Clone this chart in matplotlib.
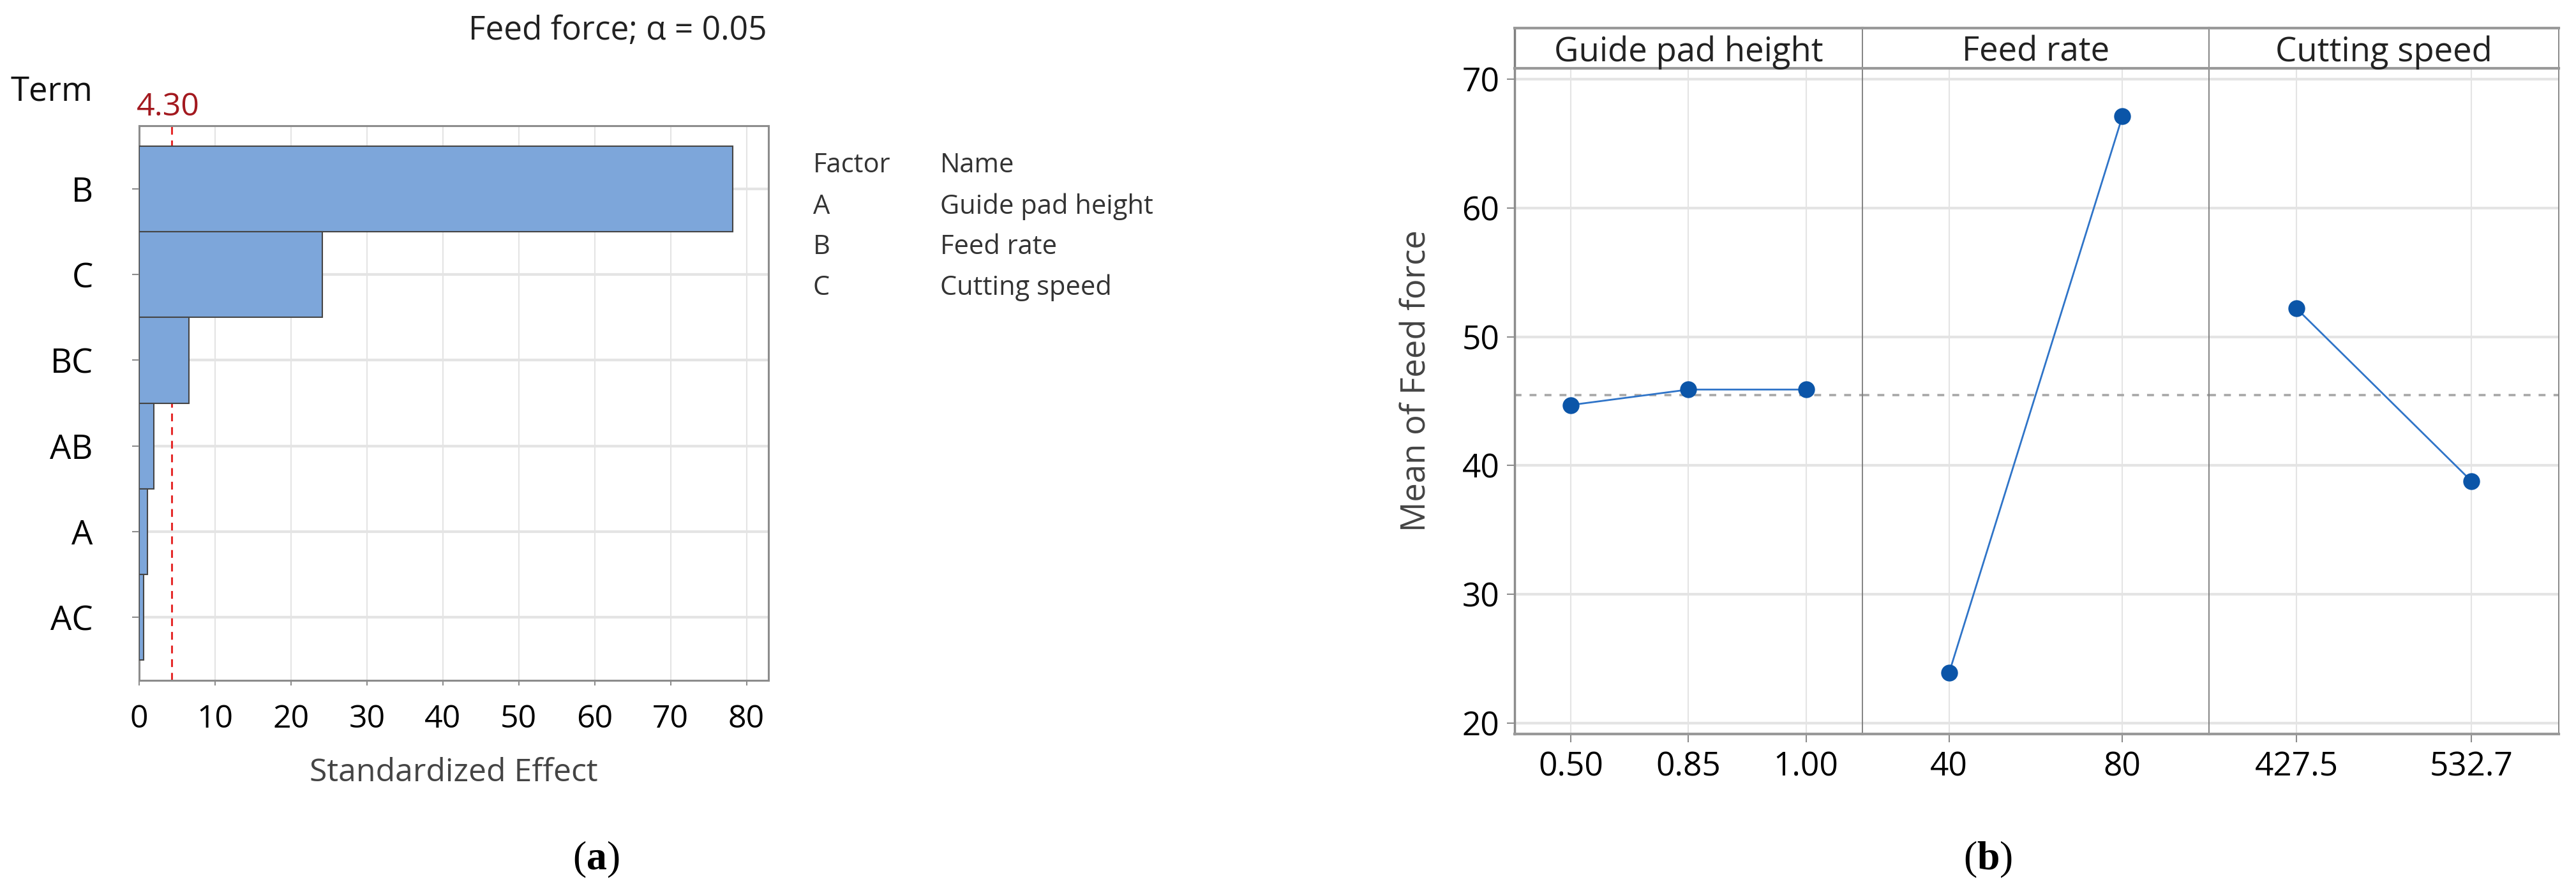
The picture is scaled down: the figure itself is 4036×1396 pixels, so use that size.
import numpy as np
import matplotlib
matplotlib.use("Agg")
import matplotlib.pyplot as plt

plt.rcParams['font.family'] = ['Open Sans', 'DejaVu Sans']
plt.rcParams['mathtext.fontset'] = 'custom'
plt.rcParams['mathtext.rm'] = 'Liberation Serif'
plt.rcParams['mathtext.bf'] = 'Liberation Serif:bold'

# ---- data -------------------------------------------------------------
terms = ["B", "C", "BC", "AB", "A", "AC"]
effects = [78.2, 24.1, 6.6, 1.95, 1.1, 0.55]
crit_value = 4.30
factor_codes = ["A", "B", "C"]
factor_names = ["Guide pad height", "Feed rate", "Cutting speed"]

guide_levels = ["0.50", "0.85", "1.00"]
guide_means = [44.7, 45.9, 45.9]
feed_levels = ["40", "80"]
feed_means = [23.9, 67.1]
speed_levels = ["427.5", "532.7"]
speed_means = [52.2, 38.8]
grand_mean = 45.45

# ---- figure -----------------------------------------------------------
W, H = 4037, 1396
fig = plt.figure(figsize=(W / 100, H / 100), dpi=100)


def fx(px):
    return px / W


def fy(py):
    return 1 - py / H


def box(x0, y0, x1, y1):
    # pixel box (top-left origin) -> figure rect
    return [fx(x0), fy(y1), (x1 - x0) / W, (y1 - y0) / H]


SPINE = '#8c8c8c'
GRID = '#e4e4e4'

# =============================================================================
# (a) Pareto chart of standardized effects
# =============================================================================
ax = fig.add_axes(box(218, 197, 1204, 1066))
ypos = np.arange(len(terms))[::-1]
ax.barh(ypos, effects, height=1.0, color='#7da6da', edgecolor='#454545',
        linewidth=1.5, zorder=3)
ax.axvline(crit_value, color='#e52a2a', ls=(0, (4, 3)), lw=2.2, zorder=2.5)
ax.set_xlim(0, 82.9)
ax.set_ylim(-0.74, 5.74)
ax.set_xticks(range(0, 81, 10))
ax.set_yticks(ypos)
ax.set_yticklabels(terms)
ax.xaxis.grid(True, color=GRID, lw=1.5, zorder=0)
ax.yaxis.grid(True, color=GRID, lw=3, zorder=0)
ax.set_axisbelow(True)
for s in ax.spines.values():
    s.set_color(SPINE)
    s.set_linewidth(2.2)
ax.tick_params(axis='y', length=8, width=1.5, color=SPINE, pad=44,
               labelsize=38)
ax.tick_params(axis='x', length=6, width=1.5, color=SPINE, pad=20,
               labelsize=36)

fig.text(fx(1202), fy(62), "Feed force; \u03b1 = 0.05", ha='right',
         va='baseline', fontsize=37, color='#222222')
fig.text(fx(17), fy(144), "Term", ha='left', va='center', fontsize=38,
         color='#111111')
fig.text(fx(263), fy(181), "4.30", ha='center', va='baseline', fontsize=36,
         color='#a3191f')
fig.text(fx(711), fy(1224), "Standardized Effect", ha='center',
         va='baseline', fontsize=36, color='#444444')

# factor table
rows_y = [270, 335, 398, 462]
fig.text(fx(1274), fy(rows_y[0]), "Factor", ha='left', va='baseline',
         fontsize=30, color='#333333')
fig.text(fx(1473), fy(rows_y[0]), "Name", ha='left', va='baseline',
         fontsize=30, color='#333333')
for code, name, yy in zip(factor_codes, factor_names, rows_y[1:]):
    fig.text(fx(1274), fy(yy), code, ha='left', va='baseline', fontsize=30,
             color='#333333')
    fig.text(fx(1473), fy(yy), name, ha='left', va='baseline', fontsize=30,
             color='#333333')

# =============================================================================
# (b) main effects plot
# =============================================================================
edges = [2373, 2918, 3461, 4009]
panels = [("Guide pad height", guide_levels, guide_means, 0.48),
          ("Feed rate", feed_levels, feed_means, 0.5),
          ("Cutting speed", speed_levels, speed_means, 0.5)]

for i, (title, levels, means, marg) in enumerate(panels):
    a = fig.add_axes(box(edges[i], 107, edges[i + 1], 1150))
    xs = np.arange(len(levels))
    a.axhline(grand_mean, color='#a8a8a8', ls=(0, (3, 3.5)), lw=2.6,
              zorder=2)
    a.plot(xs, means, color='#2f74c8', lw=2, marker='o', ms=18,
           mfc='#0b55a8', mec='#0b55a8', zorder=4)
    a.set_xlim(-marg, len(levels) - 1 + marg)
    a.set_ylim(19.16, 70.84)
    a.set_xticks(xs)
    a.set_xticklabels(levels)
    a.set_yticks(range(20, 71, 10))
    a.xaxis.grid(True, color=GRID, lw=1.5, zorder=0)
    a.yaxis.grid(True, color=GRID, lw=3, zorder=0)
    a.set_axisbelow(True)
    a.tick_params(axis='x', length=9, width=1.5, color=SPINE, pad=10,
                  labelsize=37)
    a.spines['top'].set_visible(False)
    a.spines['bottom'].set_color('#999999')
    a.spines['bottom'].set_linewidth(3)
    a.spines['right'].set_color('#7f7f7f')
    a.spines['right'].set_linewidth(1.3)
    if i == 0:
        a.spines['left'].set_color(SPINE)
        a.spines['left'].set_linewidth(2.5)
        a.tick_params(axis='y', length=9, width=1.5, color=SPINE, pad=8,
                      labelsize=37)
    else:
        a.spines['left'].set_color('#7f7f7f')
        a.spines['left'].set_linewidth(1.3)
        a.tick_params(axis='y', length=0, labelleft=False)

    # strip
    s = fig.add_axes(box(edges[i], 44, edges[i + 1], 107))
    s.set_xticks([])
    s.set_yticks([])
    for k in ('top', 'bottom'):
        s.spines[k].set_color('#999999')
        s.spines[k].set_linewidth(3)
    s.spines['left'].set_color('#7f7f7f')
    s.spines['left'].set_linewidth(1.3 if i > 0 else 2.5)
    s.spines['right'].set_color('#7f7f7f')
    s.spines['right'].set_linewidth(1.3)
    s.text(0.5, 0.5, title, transform=s.transAxes, ha='center',
           va='center_baseline', fontsize=38, color='#222222')

fig.text(fx(2220), fy(597), "Mean of Feed force", rotation=90, ha='center',
         va='center', fontsize=38, color='#444444')

# captions
fig.text(fx(934), fy(1362), r"$(\mathbf{a})$", ha='center', va='baseline',
         fontsize=46)
fig.text(fx(3115), fy(1362), r"$(\mathbf{b})$", ha='center', va='baseline',
         fontsize=46)

fig.savefig("out.png", dpi=100)
